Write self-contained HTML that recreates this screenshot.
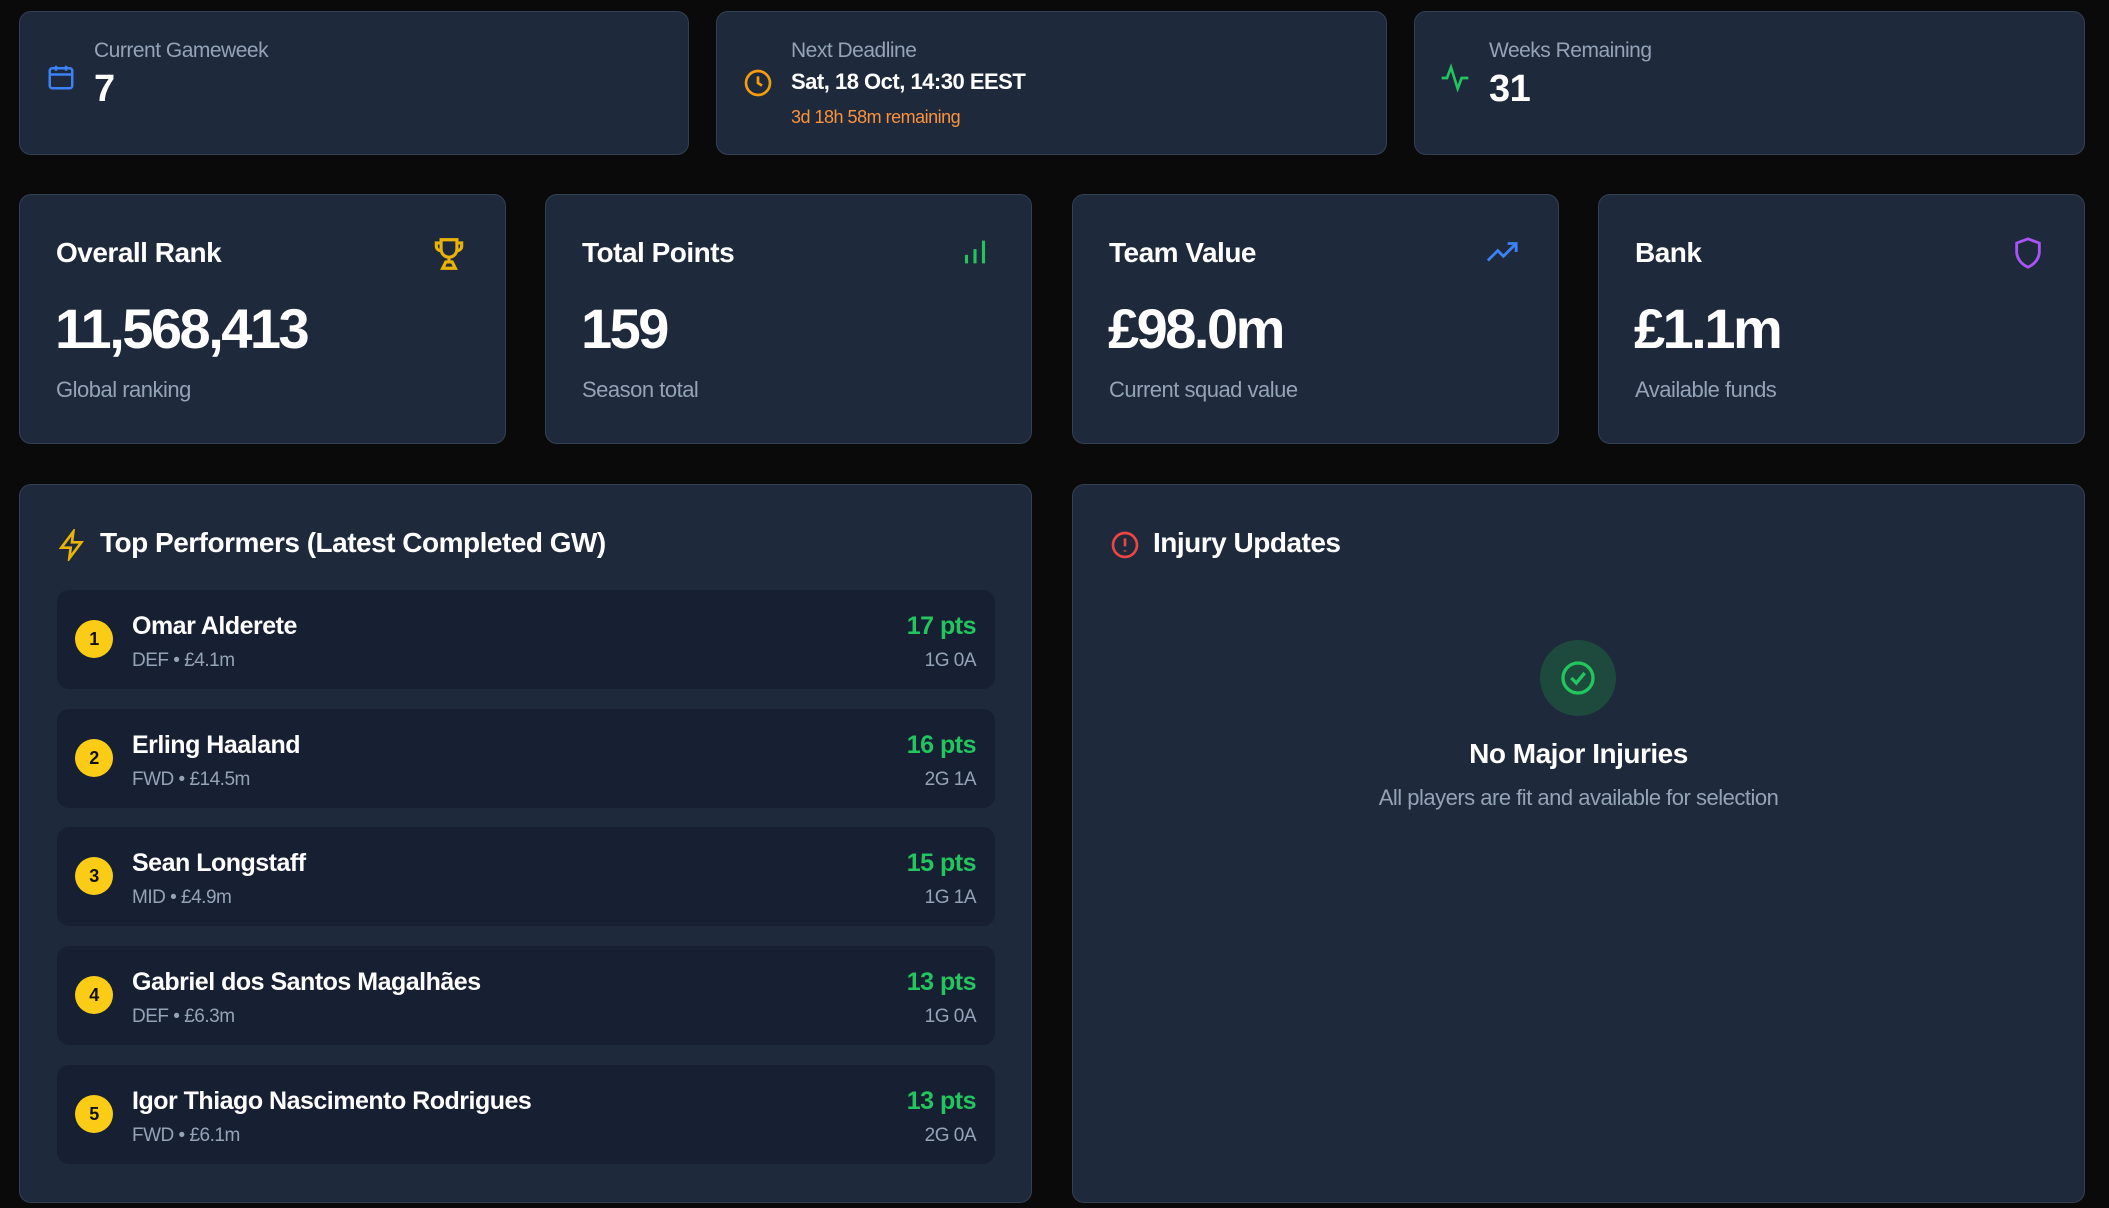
<!DOCTYPE html>
<html><head><meta charset="utf-8"><style>
*{box-sizing:border-box;margin:0;padding:0}
body{width:2109px;height:1208px;background:#0a0a0a;font-family:"Liberation Sans",sans-serif;color:#fff;position:relative;overflow:hidden;letter-spacing:-0.5px}
.card{position:absolute;background:#1e293b;border:1.5px solid #334155;border-radius:12px}
.lbl{color:#94a3b8;font-size:21px}
.abs{position:absolute}
.t{font-size:28px;font-weight:bold}
.big{font-size:56px;font-weight:bold;letter-spacing:-2.5px}
.sub{color:#94a3b8;font-size:22px}
.row{position:absolute;left:37px;width:938px;height:99px;background:#172033;border-radius:12px}
.badge{position:absolute;left:18px;top:30px;width:38px;height:38px;border-radius:50%;background:#facc15;color:#111;font-weight:bold;font-size:18px;text-align:center;line-height:38px}
.nm{position:absolute;left:75px;top:22px;font-size:25px;font-weight:bold}
.ps{position:absolute;left:75px;top:60px;font-size:19px;color:#94a3b8}
.pt{position:absolute;right:19px;top:22px;font-size:25px;font-weight:bold;color:#22c55e}
.ga{position:absolute;right:19px;top:60px;font-size:19px;color:#94a3b8}
</style></head><body>
<div class="card" style="left:19px;top:11px;width:670px;height:144px">
 <svg class="abs" style="left:26px;top:49px" width="30" height="32" viewBox="0 0 24 24" fill="none" stroke="#3b82f6" stroke-width="2"><rect x="3" y="5" width="18" height="16" rx="2"/><path d="M3 10h18M8 3v4M16 3v4"/></svg>
 <div class="abs lbl" style="left:74px;top:27px">Current Gameweek</div>
 <div class="abs" style="left:74px;top:56px;font-size:38px;font-weight:bold">7</div>
</div>
<div class="card" style="left:716px;top:11px;width:671px;height:144px">
 <svg class="abs" style="left:25px;top:55px" width="32" height="32" viewBox="0 0 24 24" fill="none" stroke="#f59e0b" stroke-width="2"><circle cx="12" cy="12" r="9"/><path d="M12 7v5l3 2"/></svg>
 <div class="abs lbl" style="left:74px;top:27px">Next Deadline</div>
 <div class="abs" style="left:74px;top:57px;font-size:22px;font-weight:bold">Sat, 18 Oct, 14:30 EEST</div>
 <div class="abs" style="left:74px;top:95px;font-size:18px;color:#fb923c">3d 18h 58m remaining</div>
</div>
<div class="card" style="left:1414px;top:11px;width:671px;height:144px">
 <svg class="abs" style="left:24px;top:50px" width="32" height="32" viewBox="0 0 24 24" fill="none" stroke="#22c55e" stroke-width="2"><path d="M2 12h4l3-8 5 16 3-8h5"/></svg>
 <div class="abs lbl" style="left:74px;top:27px">Weeks Remaining</div>
 <div class="abs" style="left:74px;top:56px;font-size:38px;font-weight:bold">31</div>
</div>

<div class="card" style="left:19px;top:194px;width:487px;height:250px">
 <div class="abs t" style="left:36px;top:42px">Overall Rank</div>
 <svg class="abs" style="left:410px;top:40px" width="38" height="38" viewBox="0 0 24 24" fill="none" stroke="#eab308" stroke-width="2"><path d="M7 3h10v6a5 5 0 0 1-10 0zM7 5H4v2a3 3 0 0 0 3 3M17 5h3v2a3 3 0 0 1-3 3M12 14v3M8 21h8l-2-4h-4z"/></svg>
 <div class="abs big" style="left:35px;top:101px">11,568,413</div>
 <div class="abs sub" style="left:36px;top:182px">Global ranking</div>
</div>
<div class="card" style="left:545px;top:194px;width:487px;height:250px">
 <div class="abs t" style="left:36px;top:42px">Total Points</div>
 <svg class="abs" style="left:412px;top:40px" width="34" height="34" viewBox="0 0 24 24" fill="none" stroke="#22c55e" stroke-width="2.2"><path d="M6 20v-6M12 20V10M18 20V4"/></svg>
 <div class="abs big" style="left:35px;top:101px">159</div>
 <div class="abs sub" style="left:36px;top:182px">Season total</div>
</div>
<div class="card" style="left:1072px;top:194px;width:487px;height:250px">
 <div class="abs t" style="left:36px;top:42px">Team Value</div>
 <svg class="abs" style="left:410px;top:40px" width="38" height="34" viewBox="0 0 24 24" fill="none" stroke="#3b82f6" stroke-width="2"><path d="M2 18l7-7 4 4 9-9M16 6h6v6"/></svg>
 <div class="abs big" style="left:35px;top:101px">£98.0m</div>
 <div class="abs sub" style="left:36px;top:182px">Current squad value</div>
</div>
<div class="card" style="left:1598px;top:194px;width:487px;height:250px">
 <div class="abs t" style="left:36px;top:42px">Bank</div>
 <svg class="abs" style="left:412px;top:39px" width="34" height="38" viewBox="0 0 24 24" fill="none" stroke="#a855f7" stroke-width="2"><path d="M12 2l8 3v6c0 5-3.5 9-8 11-4.5-2-8-6-8-11V5z"/></svg>
 <div class="abs big" style="left:35px;top:101px">£1.1m</div>
 <div class="abs sub" style="left:36px;top:182px">Available funds</div>
</div>

<div class="card" style="left:19px;top:484px;width:1013px;height:719px">
 <svg class="abs" style="left:36px;top:44px" width="32" height="32" viewBox="0 0 24 24" fill="none" stroke="#eab308" stroke-width="2"><path d="M13 2L4 14h7l-1 8 9-12h-7z"/></svg>
 <div class="abs t" style="left:80px;top:42px">Top Performers (Latest Completed GW)</div>
 <div class="row" style="top:105px"><div class="badge">1</div><div class="nm">Omar Alderete</div><div class="ps">DEF • £4.1m</div><div class="pt">17 pts</div><div class="ga">1G 0A</div></div>
 <div class="row" style="top:224px"><div class="badge">2</div><div class="nm">Erling Haaland</div><div class="ps">FWD • £14.5m</div><div class="pt">16 pts</div><div class="ga">2G 1A</div></div>
 <div class="row" style="top:342px"><div class="badge">3</div><div class="nm">Sean Longstaff</div><div class="ps">MID • £4.9m</div><div class="pt">15 pts</div><div class="ga">1G 1A</div></div>
 <div class="row" style="top:461px"><div class="badge">4</div><div class="nm">Gabriel dos Santos Magalhães</div><div class="ps">DEF • £6.3m</div><div class="pt">13 pts</div><div class="ga">1G 0A</div></div>
 <div class="row" style="top:580px"><div class="badge">5</div><div class="nm">Igor Thiago Nascimento Rodrigues</div><div class="ps">FWD • £6.1m</div><div class="pt">13 pts</div><div class="ga">2G 0A</div></div>
</div>

<div class="card" style="left:1072px;top:484px;width:1013px;height:719px">
 <svg class="abs" style="left:36px;top:44px" width="32" height="32" viewBox="0 0 24 24" fill="none" stroke="#ef4444" stroke-width="2"><circle cx="12" cy="12" r="9"/><path d="M12 7v6M12 16v1"/></svg>
 <div class="abs t" style="left:80px;top:42px">Injury Updates</div>
 <div class="abs" style="left:467px;top:155px;width:76px;height:76px;border-radius:50%;background:#1d4a3c"></div>
 <svg class="abs" style="left:485px;top:173px" width="40" height="40" viewBox="0 0 24 24" fill="none" stroke="#22c55e" stroke-width="2"><circle cx="12" cy="12" r="9"/><path d="M8 12l3 3 5-6"/></svg>
 <div class="abs" style="left:0;width:100%;text-align:center;top:253px;font-size:28px;font-weight:bold">No Major Injuries</div>
 <div class="abs sub" style="left:0;width:100%;text-align:center;top:300px">All players are fit and available for selection</div>
</div>
</body></html>
